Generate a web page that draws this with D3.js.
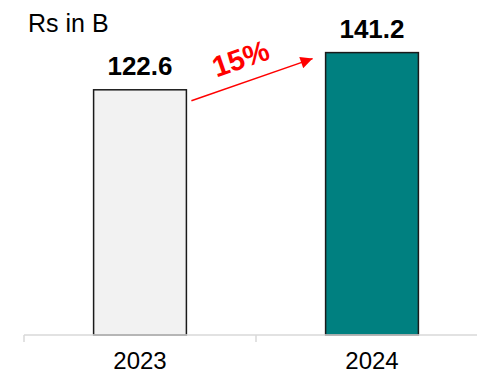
<!DOCTYPE html>
<html>
<head>
<meta charset="utf-8">
<script src="https://cdn.jsdelivr.net/npm/d3@7"></script>
<style>
  html, body { margin: 0; padding: 0; background: #fff; }
  svg { display: block; font-family: "Liberation Sans", Arial, sans-serif; }
</style>
</head>
<body>
<svg id="chart" width="477" height="375"></svg>
<script>
// Revenue by year (Rs in B)
const years = ["2023", "2024"];
const revenue = [122.6, 141.2];
const barColors = ["#f2f2f2", "#008080"];
const growthLabel = "15%";
const unitLabel = "Rs in B";

const svg = d3.select("#chart");
const baseY = 335;

const x = d3.scaleBand()
  .domain(years)
  .range([24, 488])
  .paddingInner(0.6)
  .paddingOuter(0.3);

const y = d3.scaleLinear()
  .domain([0, 167.5])
  .range([baseY, 0]);

// Bars
svg.append("g")
  .selectAll("rect")
  .data(years)
  .join("rect")
  .attr("x", d => x(d))
  .attr("y", (d, i) => y(revenue[i]))
  .attr("width", x.bandwidth())
  .attr("height", (d, i) => baseY - y(revenue[i]))
  .attr("fill", (d, i) => barColors[i])
  .attr("stroke", "#1a1a1a")
  .attr("stroke-width", 1.5);

// Category axis: light baseline with ticks at band boundaries
const axisG = svg.append("g");
axisG.append("line")
  .attr("x1", 24).attr("x2", 477)
  .attr("y1", baseY).attr("y2", baseY)
  .attr("stroke", "#d9d9d9").attr("stroke-width", 1.5);
const step = x.step();
const bounds = d3.range(years.length + 1).map(i => 24 + i * step);
axisG.selectAll("line.tick")
  .data(bounds)
  .join("line")
  .attr("class", "tick")
  .attr("x1", d => d).attr("x2", d => d)
  .attr("y1", baseY).attr("y2", baseY + 7)
  .attr("stroke", "#d9d9d9").attr("stroke-width", 1.5);
axisG.selectAll("text")
  .data(years)
  .join("text")
  .attr("x", d => x(d) + x.bandwidth() / 2)
  .attr("y", 369)
  .attr("text-anchor", "middle")
  .attr("font-size", 24)
  .attr("fill", "#000")
  .text(d => d);

// Value labels above bars
svg.append("g")
  .selectAll("text")
  .data(years)
  .join("text")
  .attr("x", d => x(d) + x.bandwidth() / 2)
  .attr("y", (d, i) => y(revenue[i]) - 15)
  .attr("text-anchor", "middle")
  .attr("font-size", 26)
  .attr("font-weight", "bold")
  .attr("fill", "#000")
  .text((d, i) => revenue[i].toFixed(1));

// Unit label
svg.append("text")
  .attr("x", 28)
  .attr("y", 32)
  .attr("font-size", 25)
  .attr("fill", "#000")
  .text(unitLabel);

// Growth arrow between bars
svg.append("defs").append("marker")
  .attr("id", "arrowhead")
  .attr("viewBox", "0 0 10 10")
  .attr("refX", 10).attr("refY", 5)
  .attr("markerWidth", 14).attr("markerHeight", 12)
  .attr("markerUnits", "userSpaceOnUse")
  .attr("orient", "auto")
  .append("path")
  .attr("d", "M0,0 L10,5 L0,10 Z")
  .attr("fill", "#ff0000");

const x1 = x(years[0]) + x.bandwidth() + 5;
const y1 = y(revenue[0]) + 11;
const x2 = x(years[1]) - 13;
const y2 = y(revenue[1]) + 6;
svg.append("line")
  .attr("x1", x1).attr("y1", y1)
  .attr("x2", x2).attr("y2", y2)
  .attr("stroke", "#ff0000")
  .attr("stroke-width", 1.5)
  .attr("marker-end", "url(#arrowhead)");

const angle = Math.atan2(y2 - y1, x2 - x1) * 180 / Math.PI;
svg.append("text")
  .attr("transform", `translate(244,68) rotate(${angle})`)
  .attr("text-anchor", "middle")
  .attr("font-size", 29)
  .attr("font-weight", "bold")
  .attr("fill", "#ff0000")
  .text(growthLabel);
</script>
</body>
</html>
